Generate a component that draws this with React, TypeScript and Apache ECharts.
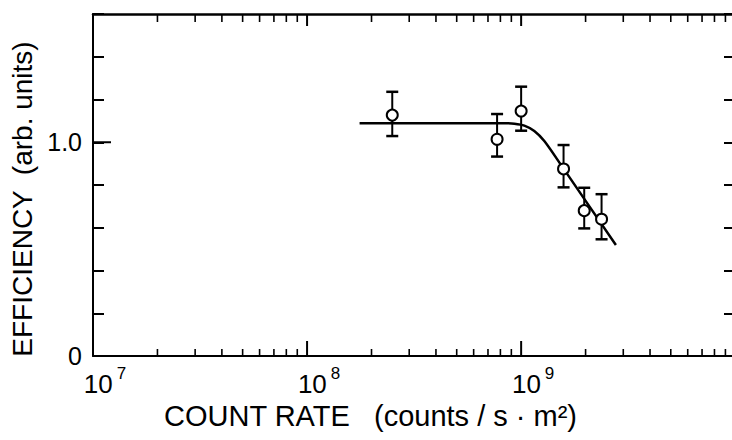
import React, { useEffect, useRef } from "react";
import * as echarts from "echarts";

// Measured data (count rate in counts/s·m², efficiency in arb. units)
const rates = [2.5e8, 7.72e8, 1.0e9, 1.578e9, 1.971e9, 2.375e9];
const efficiency = [1.127, 1.014, 1.146, 0.875, 0.68, 0.64];
const errLow = [1.029, 0.933, 1.054, 0.789, 0.597, 0.546];
const errHigh = [1.236, 1.132, 1.26, 0.987, 0.787, 0.757];

// Fitted curve
const fitRates = [1.759e8, 8.35e8, 9.3e8, 1.035e9, 1.152e9, 1.283e9, 1.535e9, 2.771e9];
const fitEff = [1.089, 1.089, 1.087, 1.078, 1.053, 1.006, 0.894, 0.519];

// Axis ticks
const xMajorExp = [7, 8, 9];
const xMinorMult = [2, 3, 4, 5, 6, 7, 8, 9];
const xMinExp = 7;
const xMaxExp = 9.985;
const yMin = 0;
const yMax = 1.6;
const yLabelValues = [0, 1];
const yLongTick = [1];

const FONT = "'Liberation Sans', Arial, sans-serif";

export default function App() {
  const ref = useRef<HTMLDivElement>(null);

  useEffect(() => {
    if (!ref.current) return;
    const chart = echarts.init(ref.current, null, { renderer: "svg" });

    const yMid = (yMin + yMax) / 2;
    const xMid = (xMinExp + xMaxExp) / 2;
    const majorX = xMajorExp.filter((e) => e > xMinExp && e < xMaxExp);
    const minorX: number[] = [];
    for (const e of xMajorExp) {
      for (const m of xMinorMult) {
        const v = Math.log10(m * Math.pow(10, e));
        if (v < xMaxExp) minorX.push(v);
      }
    }

    const xTickSeries = (vals: number[], bl: number, tl: number, w: number) => ({
      type: "custom",
      xAxisIndex: 0,
      yAxisIndex: 0,
      silent: true,
      clip: false,
      data: vals.map((v) => [v, yMid]),
      encode: { x: 0, y: 1 },
      renderItem: (params: any, api: any) => {
        const v = api.value(0);
        const pb = api.coord([v, yMin]);
        const pt = api.coord([v, yMax]);
        return {
          type: "group",
          children: [
            { type: "line", shape: { x1: pb[0], y1: pb[1], x2: pb[0], y2: pb[1] - bl }, style: { stroke: "#000", lineWidth: w } },
            { type: "line", shape: { x1: pt[0], y1: pt[1], x2: pt[0], y2: pt[1] + tl }, style: { stroke: "#000", lineWidth: w } },
          ],
        };
      },
      z: 5,
    });

    const baseX = {
      type: "value",
      min: xMinExp,
      max: xMaxExp,
      splitLine: { show: false },
      axisTick: { show: false },
    };
    const lineStyle = { color: "#000", width: 2 };

    const option: any = {
      animation: false,
      backgroundColor: "#fff",
      grid: { left: 93, top: 14, right: 0, bottom: 84 },
      xAxis: [
        {
          ...baseX,
          position: "bottom",
          axisLine: { show: true, onZero: false, lineStyle },
          axisLabel: {
            show: true,
            customValues: xMajorExp,
            margin: 9,
            formatter: (v: number) => `{b|10}{s|${Math.round(v)}}`,
            rich: {
              b: { fontSize: 26, fontFamily: FONT, color: "#000", padding: [6, 0, 0, 24] },
              s: { fontSize: 17, fontFamily: FONT, color: "#000", verticalAlign: "top", padding: [0, 0, 0, 4] },
            },
          },
          name: "COUNT RATE   (counts / s · m²)",
          nameLocation: "middle",
          nameGap: 38,
          nameTextStyle: {
            fontSize: 29,
            fontFamily: FONT,
            color: "#000",
            padding: [0, 84, 0, 0],
          },
        },
        {
          ...baseX,
          position: "top",
          axisLine: { show: true, onZero: false, lineStyle: { color: "#000", width: 2.5 } },
          axisLabel: { show: false },
        },
      ],
      yAxis: [
        {
          type: "value",
          position: "left",
          min: yMin,
          max: yMax,
          interval: 0.2,
          splitLine: { show: false },
          axisLine: { show: true, onZero: false, lineStyle },
          axisTick: { show: true, inside: true, length: 11, lineStyle: { color: "#000", width: 2 } },
          axisLabel: {
            show: true,
            customValues: yLabelValues,
            margin: 11,
            fontSize: 25,
            fontFamily: FONT,
            color: "#000",
            formatter: (v: number) => (v === 0 ? "0" : v.toFixed(1)),
          },
          name: "EFFICIENCY  (arb. units)",
          nameLocation: "middle",
          nameGap: 56,
          nameTextStyle: {
            fontSize: 28,
            fontFamily: FONT,
            color: "#000",
            padding: [0, 28, 0, 0],
          },
        },
        {
          type: "value",
          position: "right",
          min: yMin,
          max: yMax,
          interval: 0.2,
          splitLine: { show: false },
          axisLine: { show: false, onZero: false },
          axisTick: { show: true, inside: true, length: 8, lineStyle: { color: "#000", width: 2 } },
          axisLabel: { show: false },
        },
      ],
      series: [
        xTickSeries(majorX, 15, 12, 2),
        xTickSeries(minorX, 7, 8, 1.6),
        {
          // longer tick at 1.0 on the left axis
          type: "custom",
          xAxisIndex: 0,
          yAxisIndex: 0,
          silent: true,
          clip: false,
          data: yLongTick.map((v) => [xMid, v]),
          encode: { x: 0, y: 1 },
          renderItem: (params: any, api: any) => {
            const p = api.coord([xMinExp, api.value(1)]);
            return {
              type: "line",
              shape: { x1: p[0], y1: p[1], x2: p[0] + 18, y2: p[1] },
              style: { stroke: "#000", lineWidth: 2 },
            };
          },
          z: 5,
        },
        {
          type: "line",
          xAxisIndex: 0,
          yAxisIndex: 0,
          data: fitRates.map((r, i) => [Math.log10(r), fitEff[i]]),
          showSymbol: false,
          smooth: 0.3,
          lineStyle: { color: "#000", width: 2.5 },
          z: 2,
        },
        {
          type: "custom",
          xAxisIndex: 0,
          yAxisIndex: 0,
          data: rates.map((r, i) => [Math.log10(r), errLow[i], errHigh[i]]),
          encode: { x: 0, y: [1, 2] },
          renderItem: (params: any, api: any) => {
            const x = api.value(0);
            const lo = api.coord([x, api.value(1)]);
            const hi = api.coord([x, api.value(2)]);
            const hw = 6;
            return {
              type: "group",
              children: [
                { type: "line", shape: { x1: lo[0], y1: lo[1], x2: hi[0], y2: hi[1] }, style: { stroke: "#000", lineWidth: 2 } },
                { type: "line", shape: { x1: lo[0] - hw, y1: lo[1], x2: lo[0] + hw, y2: lo[1] }, style: { stroke: "#000", lineWidth: 2.5 } },
                { type: "line", shape: { x1: hi[0] - hw, y1: hi[1], x2: hi[0] + hw, y2: hi[1] }, style: { stroke: "#000", lineWidth: 2.5 } },
              ],
            };
          },
          z: 3,
        },
        {
          type: "scatter",
          xAxisIndex: 0,
          yAxisIndex: 0,
          data: rates.map((r, i) => [Math.log10(r), efficiency[i]]),
          symbol: "circle",
          symbolSize: 11,
          itemStyle: { color: "#fff", borderColor: "#000", borderWidth: 2, opacity: 1 },
          z: 4,
        },
      ],
    };

    chart.setOption(option);
    return () => chart.dispose();
  }, []);

  return (
    <div
      ref={ref}
      style={{ position: "absolute", left: 0, top: 0, width: 732, height: 440, background: "#fff" }}
    />
  );
}
